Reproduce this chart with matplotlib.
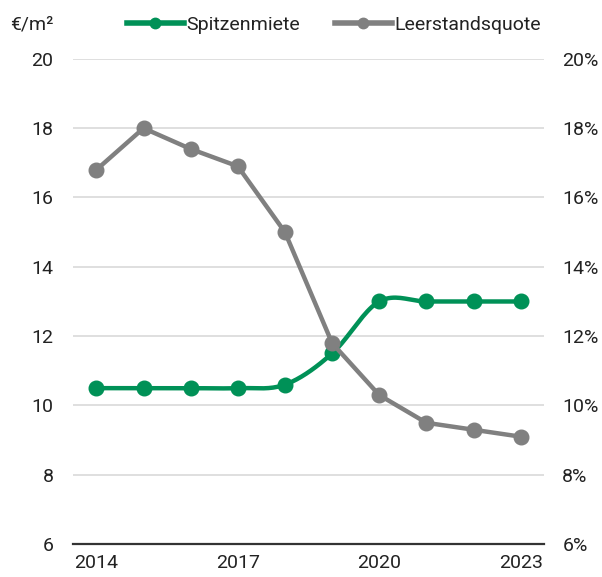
import numpy as np
import matplotlib.pyplot as plt

# =============================
# DATA
# =============================

years = [2014, 2015, 2016, 2017, 2018, 2019, 2020, 2021, 2022, 2023]
spitzenmiete = [10.5, 10.5, 10.5, 10.5, 10.6, 11.5, 13.0, 13.0, 13.0, 13.0]   # €/m²
leerstand = [16.8, 18.0, 17.4, 16.9, 15.0, 11.8, 10.3, 9.5, 9.3, 9.1]        # %

left_ticks = [6, 8, 10, 12, 14, 16, 18, 20]
right_ticks = [6, 8, 10, 12, 14, 16, 18, 20]
x_ticks = [2014, 2017, 2020, 2023]

GREEN = "#009157"
GREY = "#808080"
TEXT = "#222222"

plt.rcParams["font.family"] = ["Roboto", "DejaVu Sans"]
plt.rcParams["text.color"] = TEXT


def smooth(x, y, n=20):
    # Catmull-Rom curve through the data points (Excel style smoothed line)
    x = np.asarray(x, float)
    y = np.asarray(y, float)
    px = np.concatenate([[2 * x[0] - x[1]], x, [2 * x[-1] - x[-2]]])
    py = np.concatenate([[2 * y[0] - y[1]], y, [2 * y[-1] - y[-2]]])
    xs, ys = [], []
    t = np.linspace(0, 1, n, endpoint=False)
    for i in range(1, len(px) - 2):
        for p, out in ((px, xs), (py, ys)):
            p0, p1, p2, p3 = p[i - 1], p[i], p[i + 1], p[i + 2]
            m1 = (p2 - p0) / 6
            m2 = (p3 - p1) / 6
            b = ((1 - t) ** 3 * p1 + 3 * (1 - t) ** 2 * t * (p1 + m1)
                 + 3 * (1 - t) * t ** 2 * (p2 - m2) + t ** 3 * p2)
            out.extend(b)
    xs.append(x[-1])
    ys.append(y[-1])
    return np.array(xs), np.array(ys)


# =============================
# PLOT
# =============================

fig = plt.figure(figsize=(6.02, 5.77), dpi=100)
ax = fig.add_axes([0.121, 0.057, 0.783, 0.841])
ax2 = ax.twinx()

ax.set_ylim(6, 20)
ax2.set_ylim(6, 20)
ax.set_xlim(2013.5, 2023.5)

ax.set_yticks(left_ticks)
ax.set_yticklabels([str(v) for v in left_ticks])
ax2.set_yticks(right_ticks)
ax2.set_yticklabels([f"{v}%" for v in right_ticks])
ax.set_xticks(x_ticks)
ax.set_xticklabels([str(v) for v in x_ticks])

ax.grid(axis="y", color="#d9d9d9", linewidth=1.2)
ax.set_axisbelow(True)
for a in (ax, ax2):
    for s in a.spines.values():
        s.set_visible(False)
    a.tick_params(length=0, labelsize=14, colors=TEXT)
ax.spines["bottom"].set_visible(True)
ax.spines["bottom"].set_color("#333333")
ax.spines["bottom"].set_linewidth(1.6)
ax.tick_params(axis="y", pad=14)
ax.tick_params(axis="x", pad=7)
ax2.tick_params(axis="y", pad=13)

sx, sy = smooth(years, spitzenmiete)
ax.plot(sx, sy, color=GREEN, linewidth=3.2, solid_capstyle="round", zorder=3)
ax.plot(years, spitzenmiete, "o", color=GREEN, markersize=10.5, zorder=3)
ax2.plot(years, leerstand, color=GREY, linewidth=3.2, marker="o", markersize=10.5,
         solid_joinstyle="round", zorder=4)

# legend
h1 = plt.Line2D([], [], color=GREEN, linewidth=4, marker="o", markersize=7.5)
h2 = plt.Line2D([], [], color=GREY, linewidth=4, marker="o", markersize=7.5)
fig.legend([h1, h2], ["Spitzenmiete", "Leerstandsquote"], loc="center",
           bbox_to_anchor=(0.555, 0.957), ncol=2, frameon=False, fontsize=14,
           handlelength=2.9, handletextpad=0.15, columnspacing=1.8)

fig.text(0.017, 0.957, "€/m²", fontsize=14, va="center", ha="left")

fig.savefig("out.png", dpi=100)
